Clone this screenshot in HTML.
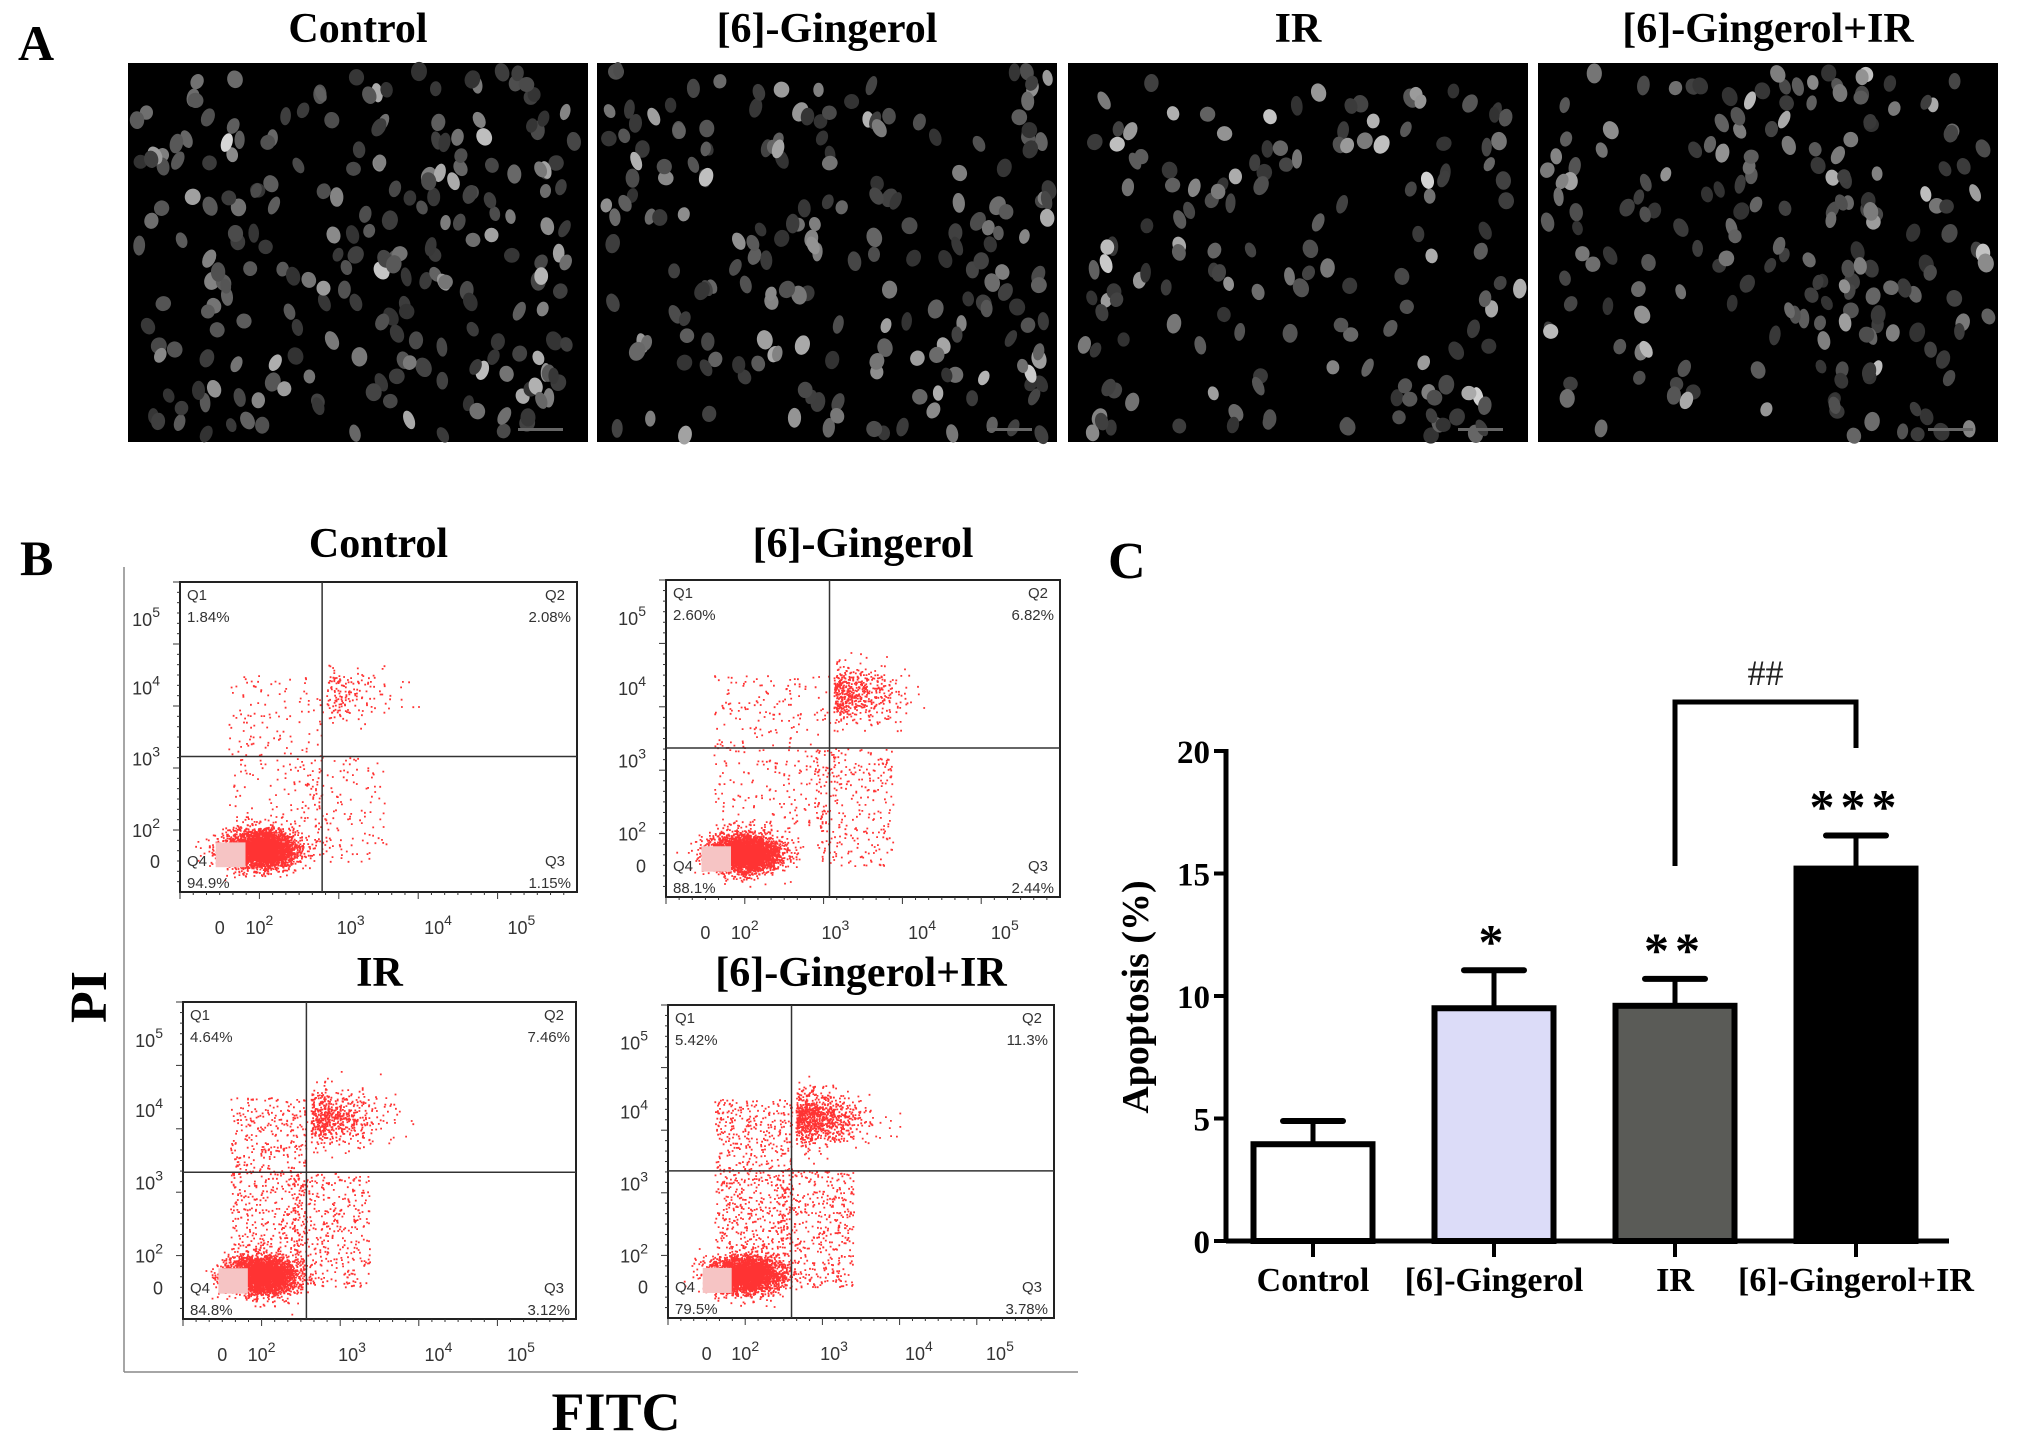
<!DOCTYPE html>
<html><head><meta charset="utf-8">
<style>
html,body{margin:0;padding:0;background:#fff;}
svg{display:block;}
.ser{font-family:"Liberation Serif",serif;font-weight:bold;fill:#000;}
.san{font-family:"Liberation Sans",sans-serif;fill:#333;}
</style></head>
<body>
<svg id="fig" width="2031" height="1442" viewBox="0 0 2031 1442" xmlns="http://www.w3.org/2000/svg">
<g id="panelA">
<text class="ser" x="18" y="60" font-size="50">A</text>
</g>
<g id="panelB">
<text class="ser" x="20" y="575" font-size="50">B</text>
<line x1="124" y1="567" x2="124" y2="1372" stroke="#888" stroke-width="1.5"/>
<line x1="124" y1="1372" x2="1078" y2="1372" stroke="#888" stroke-width="1.5"/>
<text class="ser" font-size="52" transform="translate(106,997) rotate(-90)" text-anchor="middle">PI</text>
<text class="ser" x="616" y="1430" font-size="54" text-anchor="middle">FITC</text>
</g>
<g id="panelC">
<text class="ser" x="1108" y="578" font-size="52">C</text>
</g>
</svg>
<script>
// ---- Panel C data ----
const categories = ["Control","[6]-Gingerol","IR","[6]-Gingerol+IR"];
const means = [3.95, 9.5, 9.6, 15.2];
const errors = [0.95, 1.55, 1.1, 1.35];
const stars = ["", "*", "**", "***"];
const barFills = ["#ffffff","#dcdcf8","#5a5b57","#000000"];
const yTicks = [0,5,10,15,20];
// ---- Panel B data ----
const flowTitles = ["Control","[6]-Gingerol","IR","[6]-Gingerol+IR"];
const q1 = ["1.84%","2.60%","4.64%","5.42%"];
const q2 = ["2.08%","6.82%","7.46%","11.3%"];
const q3 = ["1.15%","2.44%","3.12%","3.78%"];
const q4 = ["94.9%","88.1%","84.8%","79.5%"];
const q1v = [1.84,2.60,4.64,5.42];
const q2v = [2.08,6.82,7.46,11.3];
const q3v = [1.15,2.44,3.12,3.78];
const q4v = [94.9,88.1,84.8,79.5];
const gateX = [0.358,0.415,0.314,0.32];
const gateY = [0.563,0.53,0.537,0.53];
// ---- Panel A titles ----
const micTitles = ["Control","[6]-Gingerol","IR","[6]-Gingerol+IR"];

const NS="http://www.w3.org/2000/svg";
function mk(tag,attrs,parent){const e=document.createElementNS(NS,tag);for(const k in attrs)e.setAttribute(k,attrs[k]);if(parent)parent.appendChild(e);return e;}
function rng(seed){return function(){seed|=0;seed=seed+0x6D2B79F5|0;let t=Math.imul(seed^seed>>>15,1|seed);t=t+Math.imul(t^t>>>7,61|t)^t;return((t^t>>>14)>>>0)/4294967296;};}
function gauss(r){return Math.sqrt(-2*Math.log(r()+1e-9))*Math.cos(2*Math.PI*r());}

// ---- Panel A ----
const pA=document.getElementById('panelA');
const micX=[128,597,1068,1538];
micTitles.forEach((t,i)=>{
  const cx=micX[i]+230;
  const tt=mk('text',{class:'ser',x:cx,y:42,'font-size':42,'text-anchor':'middle'},pA);
  tt.textContent=t;
  
  
  const g=mk('g',{},pA);
  
  
  mk('rect',{x:micX[i],y:63,width:460,height:379,fill:'#000'},g);
  const r=rng(17+i*101);
  const n=[230,200,150,190][i];
  for(let k=0;k<n;k++){
    const x=micX[i]+8+r()*444, y=70+r()*366;
    const c=Math.floor(50+r()*r()*170);
    mk('ellipse',{cx:x.toFixed(1),cy:y.toFixed(1),rx:(5+r()*3).toFixed(1),ry:(7+r()*3).toFixed(1),fill:`rgb(${c},${c},${c})`,transform:`rotate(${(r()*60-30).toFixed(0)} ${x.toFixed(1)} ${y.toFixed(1)})`},g);
  }
  mk('rect',{x:micX[i]+390,y:428,width:45,height:3,fill:'#666'},g);
});

// ---- Panel B ----
const pB=document.getElementById('panelB');
const boxes=[[180,582,577,892],[666,580,1060,897],[183,1002,576,1319],[668,1005,1054,1318]];
const titleY=[557,557,986,986];
boxes.forEach((b,i)=>{
  const [x0,y0,x1,y1]=b, w=x1-x0, h=y1-y0;
  const g=mk('g',{},pB);
  
  
  const tt=mk('text',{class:'ser',x:x0+w*0.5,y:titleY[i],'font-size':42,'text-anchor':'middle'},g);
  tt.textContent=flowTitles[i];
  
  
  const gx=x0+w*gateX[i], gy=y0+h*gateY[i];
  const r=rng(999+i*37);
  const pts=[];
  const total=4000;
  const nQ4=Math.round(total*q4v[i]/100), nQ1=Math.round(total*q1v[i]/100)*3, nQ2=Math.round(total*q2v[i]/100)*2, nQ3=Math.round(total*q3v[i]/100)*3;
  for(let k=0;k<nQ4;k++){pts.push([x0+w*(0.2+0.045*gauss(r)),y0+h*(0.86+0.03*gauss(r))]);}
  for(let k=0;k<nQ1;k++){pts.push([x0+w*(0.12+r()*(gateX[i]-0.12)),y0+h*(0.3+r()*(gateY[i]-0.3+0.25))]);}
  for(let k=0;k<nQ2;k++){pts.push([gx+w*(0.01+0.08*Math.abs(gauss(r))),y0+h*(0.36+0.045*gauss(r))]);}
  for(let k=0;k<nQ3;k++){pts.push([gx+w*(r()*0.2-0.04),gy+h*(r()*(0.9-gateY[i]))]);}
  let d='';
  pts.forEach(p=>{const px=Math.min(x1-2,Math.max(x0+2,p[0])),py=Math.min(y1-2,Math.max(y0+2,p[1]));d+=`M${px.toFixed(1)} ${py.toFixed(1)}h1.8v1.8h-1.8z`;});
  const dots=mk('path',{d:d,fill:'#f00','fill-opacity':0.8},g);
  
  
  mk('rect',{x:x0+w*0.09,y:y0+h*0.84,width:w*0.075,height:h*0.08,fill:'#f6c4c4'},g);
  mk('rect',{x:x0,y:y0,width:w,height:h,fill:'none',stroke:'#222','stroke-width':2},g);
  mk('line',{x1:gx,y1:y0,x2:gx,y2:y1,stroke:'#333','stroke-width':1.5},g);
  mk('line',{x1:x0,y1:gy,x2:x1,y2:gy,stroke:'#333','stroke-width':1.5},g);
  const lab=(s,x,y,a)=>{const t=mk('text',{class:'san',x:x,y:y,'font-size':15,'text-anchor':a},g);t.textContent=s;return t;};
  lab('Q1',x0+7,y0+18,'start');lab(q1[i],x0+7,y0+40,'start');
  lab('Q2',x1-32,y0+18,'start');lab(q2[i],x1-6,y0+40,'end');
  lab('Q4',x0+7,y1-26,'start');lab(q4[i],x0+7,y1-4,'start');
  lab('Q3',x1-32,y1-26,'start');lab(q3[i],x1-6,y1-4,'end');
  const xl=[["0",0.1],["10",0.2,"2"],["10",0.43,"3"],["10",0.65,"4"],["10",0.86,"5"]];
  xl.forEach(L=>{const t=mk('text',{class:'san',x:x0+w*L[1],y:y1+42,'font-size':18,'text-anchor':'middle'},g);t.textContent=L[0];if(L[2]){const s=mk('tspan',{dy:-9,'font-size':14},t);s.textContent=L[2];}});
  const yl=[["10",0.12,"5"],["10",0.34,"4"],["10",0.57,"3"],["10",0.8,"2"],["0",0.9]];
  yl.forEach(L=>{const t=mk('text',{class:'san',x:x0-20,y:y0+h*L[1]+7,'font-size':18,'text-anchor':'end'},g);t.textContent=L[0];if(L[2]){const s=mk('tspan',{dy:-9,'font-size':14},t);s.textContent=L[2];}});
  for(let k=0;k<30;k++){mk('line',{x1:x0,y1:y0+h*k/30,x2:x0-(k%6?3:7),y2:y0+h*k/30,stroke:'#333','stroke-width':1},g);mk('line',{x1:x0+w*k/30,y1:y1,x2:x0+w*k/30,y2:y1+(k%6?3:7),stroke:'#333','stroke-width':1},g);}
});

// ---- Panel C ----
const pC=document.getElementById('panelC');
const X0=1226, X1=1949, Y0=1241, Y20=751;
const yS=v=>Y0-(Y0-Y20)*v/20;
const xC=i=>1313+i*181;
const bw=119;
yTicks.forEach(v=>{
  mk('line',{x1:X0-12,y1:yS(v),x2:X0,y2:yS(v),stroke:'#000','stroke-width':4},pC);
  const t=mk('text',{class:'ser',x:X0-16,y:yS(v)+12,'font-size':33,'text-anchor':'end'},pC);
  t.textContent=v;
  
  
});
means.forEach((m,i)=>{
  const cx=xC(i);
  mk('line',{x1:cx,y1:yS(m),x2:cx,y2:yS(m+errors[i]),stroke:'#000','stroke-width':5},pC);
  mk('line',{x1:cx-30,y1:yS(m+errors[i]),x2:cx+30,y2:yS(m+errors[i]),stroke:'#000','stroke-width':6,'stroke-linecap':'round'},pC);
  const b=mk('rect',{x:cx-bw/2,y:yS(m),width:bw,height:Y0-yS(m),fill:barFills[i],stroke:'#000','stroke-width':6},pC);
  
  
  mk('line',{x1:cx,y1:Y0,x2:cx,y2:Y0+16,stroke:'#000','stroke-width':4},pC);
  const t=mk('text',{class:'ser',x:cx,y:Y0+50,'font-size':34,'text-anchor':'middle'},pC);
  t.textContent=categories[i];
  
  
  if(stars[i]){
    const s=mk('text',{class:'ser',x:cx,y:yS(m+errors[i])-12,'font-size':50,'text-anchor':'middle','letter-spacing':6},pC);
    s.textContent=stars[i];
    
    
  }
});
mk('line',{x1:X0,y1:Y20-2,x2:X0,y2:Y0,stroke:'#000','stroke-width':5},pC);
mk('line',{x1:X0,y1:Y0,x2:X1,y2:Y0,stroke:'#000','stroke-width':5},pC);
const br=mk('path',{d:`M${xC(2)} 866 V702 H${xC(3)} V748`,fill:'none',stroke:'#000','stroke-width':5},pC);


const hh=mk('text',{x:(xC(2)+xC(3))/2,y:685,'font-size':36,'text-anchor':'middle','font-family':'Liberation Serif, serif',fill:'#222'},pC);
hh.textContent='##';


const yt=mk('text',{class:'ser','font-size':38,'text-anchor':'middle',transform:'translate(1148,997) rotate(-90)'},pC);
yt.textContent='Apoptosis (%)';


</script>
</body></html>
